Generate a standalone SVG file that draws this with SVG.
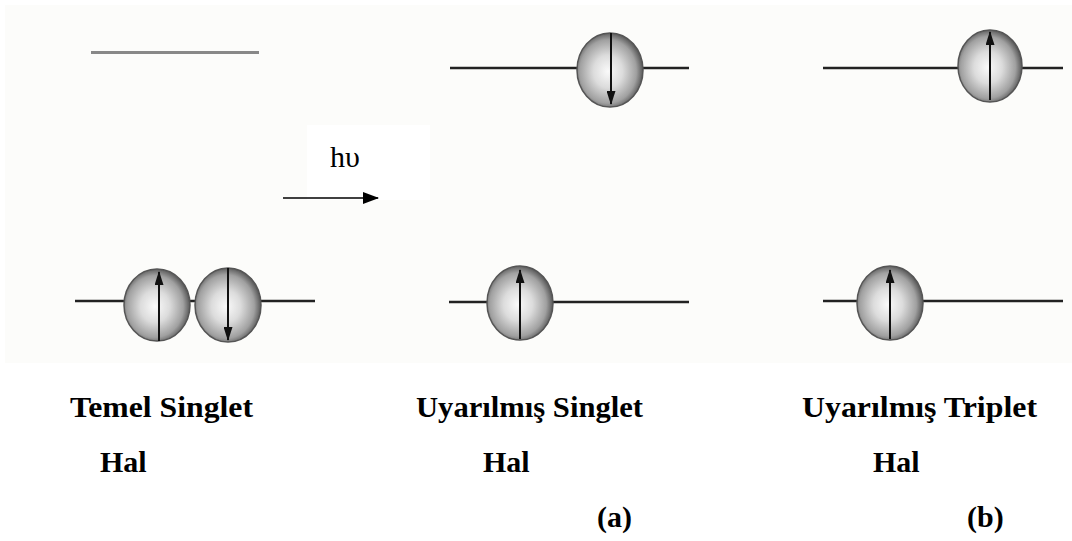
<svg xmlns="http://www.w3.org/2000/svg" width="1072" height="541" viewBox="0 0 1072 541">
  <defs>
    <radialGradient id="ball" cx="47%" cy="52%" r="55%">
      <stop offset="0" stop-color="#fafafa"/>
      <stop offset="0.4" stop-color="#dcdcdc"/>
      <stop offset="0.78" stop-color="#a0a0a0"/>
      <stop offset="1" stop-color="#4a4a4a"/>
    </radialGradient>
    <filter id="soft" x="-10%" y="-10%" width="120%" height="120%">
      <feGaussianBlur stdDeviation="0.7"/>
    </filter>
    <marker id="spin" viewBox="0 0 14 9" refX="13" refY="4.5" markerWidth="14" markerHeight="9" markerUnits="userSpaceOnUse" orient="auto">
      <path d="M0,0 L14,4.5 L0,9 z" fill="#111"/>
    </marker>
    <marker id="photon" viewBox="0 0 16 12" refX="15" refY="6" markerWidth="16" markerHeight="12" markerUnits="userSpaceOnUse" orient="auto">
      <path d="M0,0 L16,6 L0,12 z" fill="#000"/>
    </marker>
  </defs>
  <style>
    .level { stroke: #222; stroke-width: 2.5; fill: none; }
    .orb { fill: url(#ball); stroke: #555; stroke-width: 1.5; filter: url(#soft); }
    .spin { stroke: #111; stroke-width: 2; marker-end: url(#spin); }
    .lbl { font-family: "Liberation Serif", "Times New Roman", serif; font-weight: bold; font-size: 30px; fill: #000; }
  </style>

  <rect width="1072" height="541" fill="#ffffff"/>
  <rect x="5" y="5" width="1067" height="358" fill="#fcfcfa"/>

  <!-- empty upper level of the ground state -->
  <g id="ground-upper">
    <line x1="91" y1="52.5" x2="259" y2="52.5" stroke="#888" stroke-width="3"/>
  </g>

  <!-- ground singlet: paired electrons -->
  <g id="ground-lower">
    <line class="level" x1="75" y1="301" x2="315" y2="301"/>
    <ellipse class="orb" cx="157" cy="305" rx="33" ry="36"/>
    <ellipse class="orb" cx="228" cy="305" rx="33" ry="37"/>
    <line class="spin" x1="159" y1="341" x2="159" y2="272"/>
    <line class="spin" x1="228" y1="268" x2="228" y2="340"/>
  </g>

  <!-- excited singlet -->
  <g id="singlet-upper">
    <line class="level" x1="450" y1="68" x2="689" y2="68"/>
    <ellipse class="orb" cx="610" cy="70" rx="33" ry="37"/>
    <line class="spin" x1="611" y1="33" x2="611" y2="104"/>
  </g>
  <g id="singlet-lower">
    <line class="level" x1="449" y1="302" x2="689" y2="302"/>
    <ellipse class="orb" cx="520" cy="303" rx="33" ry="37"/>
    <line class="spin" x1="520" y1="339" x2="520" y2="270"/>
  </g>

  <!-- excited triplet -->
  <g id="triplet-upper">
    <line class="level" x1="823" y1="68" x2="1063" y2="68"/>
    <ellipse class="orb" cx="990" cy="66" rx="32" ry="36"/>
    <line class="spin" x1="990" y1="100" x2="990" y2="32"/>
  </g>
  <g id="triplet-lower">
    <line class="level" x1="823" y1="301" x2="1063" y2="301"/>
    <ellipse class="orb" cx="890" cy="303" rx="33" ry="37"/>
    <line class="spin" x1="890" y1="339" x2="890" y2="270"/>
  </g>

  <!-- excitation arrow -->
  <g id="connectors">
    <rect x="307" y="125" width="123" height="75" fill="#ffffff"/>
    <line x1="283" y1="198" x2="378" y2="198" stroke="#000" stroke-width="1.5" marker-end="url(#photon)"/>
    <text x="330" y="167" font-family="Liberation Serif, Times New Roman, serif" font-size="30" fill="#000">hυ</text>
  </g>

  <g id="labels">
    <text class="lbl" x="70" y="417" textLength="183" lengthAdjust="spacingAndGlyphs">Temel Singlet</text>
    <text class="lbl" x="100" y="472">Hal</text>
    <text class="lbl" x="416" y="417" textLength="227" lengthAdjust="spacingAndGlyphs">Uyarılmış Singlet</text>
    <text class="lbl" x="483" y="472">Hal</text>
    <text class="lbl" x="597" y="527">(a)</text>
    <text class="lbl" x="802" y="417" textLength="235" lengthAdjust="spacingAndGlyphs">Uyarılmış Triplet</text>
    <text class="lbl" x="873" y="472">Hal</text>
    <text class="lbl" x="967" y="527">(b)</text>
  </g>
</svg>
